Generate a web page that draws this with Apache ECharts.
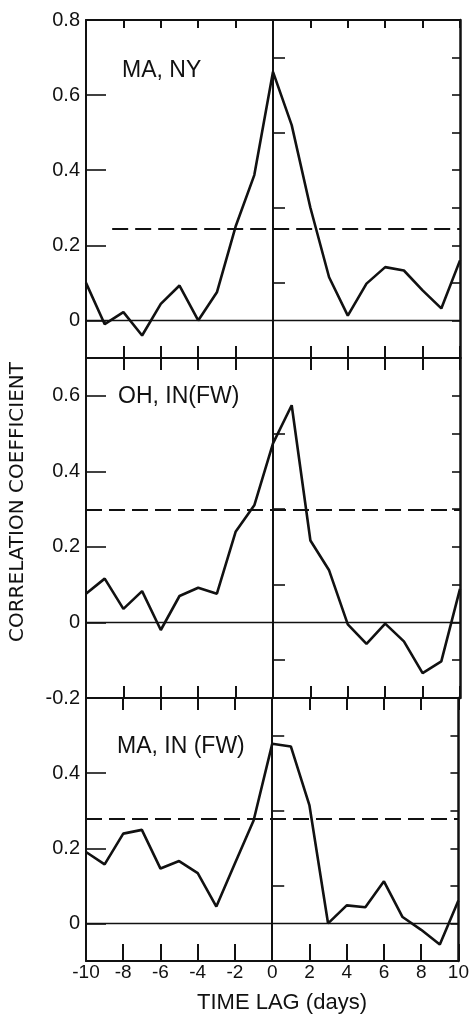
<!DOCTYPE html>
<html>
  <head>
    <meta charset="utf-8" />
    <title>Correlation coefficient vs time lag</title>
    <script src="https://cdn.jsdelivr.net/npm/echarts@6.0.0/dist/echarts.min.js"></script>
    <style>
      html, body { margin: 0; padding: 0; background: #fff; }
    </style>
  </head>
  <body>
    <div id="main" style="width: 472px; height: 1016px; background-color: white"></div>
    <script type="text/javascript">
      // time lag in days
      var lags = [-10, -9, -8, -7, -6, -5, -4, -3, -2, -1, 0, 1, 2, 3, 4, 5, 6, 7, 8, 9, 10];
      // correlation coefficient per panel
      var maNy = [0.10, -0.01, 0.022, -0.04, 0.044, 0.093, 0.0, 0.075, 0.25, 0.387, 0.662, 0.52, 0.30, 0.115, 0.013, 0.098, 0.142, 0.133, 0.08, 0.032, 0.16];
      var ohIn = [0.076, 0.116, 0.036, 0.083, -0.02, 0.07, 0.092, 0.076, 0.24, 0.31, 0.474, 0.575, 0.217, 0.138, -0.005, -0.057, -0.003, -0.05, -0.134, -0.103, 0.089];
      var maIn = [0.19, 0.157, 0.239, 0.249, 0.146, 0.166, 0.134, 0.045, 0.16, 0.274, 0.478, 0.471, 0.314, 0.0, 0.048, 0.043, 0.112, 0.017, -0.017, -0.056, 0.061];
      var panelNames = ['MA, NY', 'OH, IN(FW)', 'MA, IN (FW)'];

      // dashed significance level and where its dash starts
      var sigLevel = [0.245, 0.297, 0.278];
      var sigFrom = [-8.6, -10, -10];

      // y range and tick values of each panel
      var yMin = [-0.1, -0.2, -0.1];
      var yMax = [0.8, 0.7, 0.6];
      var yMajor = [[0, 0.2, 0.4, 0.6, 0.8], [-0.2, 0, 0.2, 0.4, 0.6], [0, 0.2, 0.4]];
      var yMinor = [[0.1, 0.3, 0.5, 0.7], [-0.1, 0.1, 0.3, 0.5], [0.1, 0.3, 0.5]];

      var panelData = [maNy, ohIn, maIn];

      // layout
      var gridTop = [20, 358, 698];
      var gridHeight = [338, 340, 263];
      var INK = '#111';
      var FONT = '"Liberation Sans", Arial, sans-serif';

      var myChart = echarts.init(document.getElementById('main'));

      var grids = [];
      var xAxes = [];
      var yAxes = [];
      var series = [];

      function xAxisFor(gridIndex, position, tickLen, withLabels) {
        return {
          type: 'value',
          gridIndex: gridIndex,
          position: position,
          min: -10,
          max: 10,
          interval: 2,
          axisLine: { show: true, onZero: false, lineStyle: { color: INK, width: 2 } },
          axisTick: { show: true, inside: true, length: tickLen, lineStyle: { color: INK, width: 2 } },
          axisLabel: {
            show: withLabels,
            margin: 2,
            color: INK,
            fontSize: 19,
            fontFamily: FONT
          },
          splitLine: { show: false }
        };
      }

      for (var i = 0; i < 3; i++) {
        grids.push({ left: 86, right: 12, top: gridTop[i], height: gridHeight[i] });

        // top and bottom edges of each panel; series sit on the bottom one
        var topTick = i === 0 ? 8 : 12;
        var bottomTick = i === 2 ? 17 : 12;
        xAxes.push(xAxisFor(i, 'top', topTick, false));
        xAxes.push(xAxisFor(i, 'bottom', bottomTick, i === 2));

        // left axis: labels and long ticks
        yAxes.push({
          type: 'value',
          gridIndex: i,
          position: 'left',
          min: yMin[i],
          max: yMax[i],
          axisLine: { show: true, onZero: false, lineStyle: { color: INK, width: 2 } },
          axisTick: { show: true, inside: true, length: 20, customValues: yMajor[i], lineStyle: { color: INK, width: 1.6 } },
          axisLabel: {
            show: true,
            customValues: yMajor[i],
            margin: 6,
            color: INK,
            fontSize: 20,
            fontFamily: FONT
          },
          splitLine: { show: false }
        });
        // left axis: short ticks
        yAxes.push({
          type: 'value',
          gridIndex: i,
          position: 'left',
          min: yMin[i],
          max: yMax[i],
          axisLine: { show: false },
          axisTick: { show: true, inside: true, length: 12, customValues: yMinor[i], lineStyle: { color: INK, width: 1.6 } },
          axisLabel: { show: false },
          splitLine: { show: false }
        });
        // right edge
        yAxes.push({
          type: 'value',
          gridIndex: i,
          position: 'right',
          min: yMin[i],
          max: yMax[i],
          axisLine: { show: true, onZero: false, lineStyle: { color: INK, width: 2.5 } },
          axisTick: { show: true, inside: true, length: 8, customValues: yMajor[i].concat(yMinor[i]), lineStyle: { color: INK, width: 1.6 } },
          axisLabel: { show: false },
          splitLine: { show: false }
        });

        var pts = [];
        for (var k = 0; k < lags.length; k++) {
          pts.push([lags[k], panelData[i][k]]);
        }

        series.push({
          name: panelNames[i],
          type: 'line',
          xAxisIndex: i * 2 + 1,
          yAxisIndex: i * 3,
          data: pts,
          symbol: 'none',
          lineStyle: { color: INK, width: 2.6 },
          z: 3,
          markLine: {
            silent: true,
            symbol: ['none', 'none'],
            label: { show: false },
            animation: false,
            lineStyle: { color: INK, type: 'solid', width: 1.3 },
            data: [
              { yAxis: 0, lineStyle: { color: INK, type: 'solid', width: 1.3 } },
              { xAxis: 0, lineStyle: { color: INK, type: 'solid', width: 2 } },
              [
                { coord: [sigFrom[i], sigLevel[i]], lineStyle: { color: INK, type: [16, 7], width: 1.8 } },
                { coord: [10, sigLevel[i]] }
              ]
            ]
          }
        });
      }

      var labelStyle = { fill: INK, font: '23px ' + FONT, align: 'left', verticalAlign: 'middle', textAlign: 'left', textVerticalAlign: 'middle' };

      var option = {
        animation: false,
        backgroundColor: '#fff',
        grid: grids,
        xAxis: xAxes,
        yAxis: yAxes,
        series: series,
        graphic: [
          { type: 'text', x: 122, y: 71, style: Object.assign({ text: panelNames[0] }, labelStyle) },
          { type: 'text', x: 118, y: 397, style: Object.assign({ text: panelNames[1] }, labelStyle) },
          { type: 'text', x: 117, y: 747, style: Object.assign({ text: panelNames[2] }, labelStyle) },
          {
            type: 'text', x: 18, y: 502, rotation: Math.PI / 2,
            style: { text: 'CORRELATION COEFFICIENT', fill: INK, font: '20px "DejaVu Sans", sans-serif', align: 'center', verticalAlign: 'middle', textAlign: 'center', textVerticalAlign: 'middle' }
          },
          {
            type: 'text', x: 282, y: 1003,
            style: { text: 'TIME LAG (days)', fill: INK, font: '22px ' + FONT, align: 'center', verticalAlign: 'middle', textAlign: 'center', textVerticalAlign: 'middle' }
          }
        ]
      };

      myChart.setOption(option);
    </script>
  </body>
</html>
